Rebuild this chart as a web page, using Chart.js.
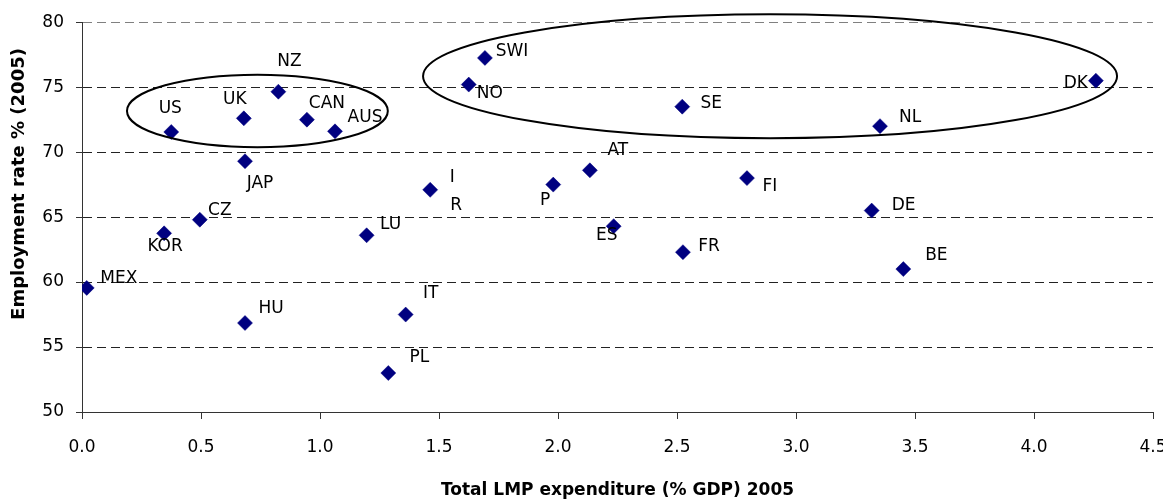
<!DOCTYPE html>
<html>
<head>
<meta charset="utf-8">
<script src="https://cdn.jsdelivr.net/npm/chart.js@4"></script>
<style>
  body { margin:0; background:#fff; overflow:hidden; }
  #wrap { width:1163px; height:502px; position:relative; }
</style>
</head>
<body>
<div id="wrap"><canvas id="lmp_chart"></canvas></div>
<script>
// country codes as printed next to the markers
const countries = ['MEX','KOR','CZ','US','HU','UK','JAP','NZ','CAN','AUS','LU','PL','IT','I|R','NO','SWI','P','AT','ES','SE','FR','FI','DE','NL','BE','DK'];
// total LMP expenditure, % of GDP (2005)
const lmpSpend = [0.02,0.345,0.495,0.375,0.685,0.68,0.685,0.825,0.945,1.063,1.196,1.287,1.36,1.463,1.625,1.693,1.98,2.134,2.234,2.522,2.525,2.794,3.318,3.353,3.451,4.26];
// employment rate % (2005)
const empRate = [59.55,63.75,64.8,71.55,56.85,72.6,69.3,74.65,72.5,71.6,63.6,53.0,57.5,67.1,75.2,77.25,67.5,68.6,64.3,73.5,62.3,68.0,65.5,72.0,61.0,75.5];
const xTicks = [0,0.5,1,1.5,2,2.5,3,3.5,4,4.5];
const yTicks = [50,55,60,65,70,75,80];
const xTitle = 'Total LMP expenditure (% GDP) 2005';
const yTitle = 'Employment rate % (2005)';

// where each label sits relative to its marker (px)
const labelOffsets = [[32,-11],[1,12],[20,-11],[-1,-25],[26,-16],[-9,-20],[15,21],[11,-32],[20,-18],[30,-15],[24,-12],[31,-17],[25,-23],[[22,-14],[26,14]],[21,7],[27,-8],[-8,14],[28,-21],[-7,8],[29,-5],[26,-7],[23,7],[32,-7],[30,-10],[33,-15],[-20,1]];

// the two groups circled in the original (data units: cx, cy, rx, ry)
const groups = [[0.737,73.17,0.548,2.79],[2.891,75.84,1.458,4.77]];

let pts = [];
for(let i=0; i<lmpSpend.length; i++){
    pts.push({x:lmpSpend[i], y:empRate[i]});
}

const FONT = "'DejaVu Sans', sans-serif";

const ellipsePlugin = {
    id:'groups',
    afterDatasetsDraw(chart){
        const ctx = chart.ctx, xs = chart.scales.x, ys = chart.scales.y;
        ctx.save();
        ctx.strokeStyle = '#000';
        ctx.lineWidth = 2;
        groups.forEach(g => {
            const cx = xs.getPixelForValue(g[0]);
            const cy = ys.getPixelForValue(g[1]);
            const rx = xs.getPixelForValue(g[0]+g[2]) - cx;
            const ry = cy - ys.getPixelForValue(g[1]+g[3]);
            ctx.beginPath();
            ctx.ellipse(cx, cy, rx, ry, 0, 0, Math.PI*2);
            ctx.stroke();
        });
        ctx.restore();
    }
};

const labelPlugin = {
    id:'ptLabels',
    afterDraw(chart){
        const ctx = chart.ctx;
        const meta = chart.getDatasetMeta(0);
        ctx.save();
        ctx.font = '17px ' + FONT;
        ctx.fillStyle = '#000';
        ctx.textAlign = 'center';
        ctx.textBaseline = 'alphabetic';
        meta.data.forEach((pt, i) => {
            const parts = countries[i].split('|');
            let offs = labelOffsets[i];
            if(!Array.isArray(offs[0])) offs = [offs];
            parts.forEach((txt, j) => {
                ctx.fillText(txt, pt.x + offs[j][0], pt.y + offs[j][1] + 6);
            });
        });

        // axis titles (the y one is not centred on the axis in the original)
        const area = chart.chartArea;
        ctx.font = 'bold 17px ' + FONT;
        ctx.fillText(xTitle, (area.left + area.right) / 2, 495);
        ctx.translate(24, 184);
        ctx.rotate(-Math.PI/2);
        ctx.font = 'bold 18px ' + FONT;
        ctx.fillText(yTitle, 0, 0);
        ctx.restore();
    }
};

new Chart(document.getElementById('lmp_chart'), {
    type:'scatter',
    data:{
        datasets:[{
            label:'Employment vs LMP expenditure',
            data:pts,
            pointStyle:'rectRot',
            pointRadius:7.5,
            pointHoverRadius:7.5,
            backgroundColor:'#000080',
            borderColor:'#000080',
            borderWidth:0.5
        }]
    },
    plugins:[ellipsePlugin, labelPlugin],
    options:{
        responsive:true,
        maintainAspectRatio:false,
        animation:false,
        layout:{ padding:{ left:0, right:10, top:19, bottom:0 } },
        plugins:{ legend:{ display:false }, tooltip:{ enabled:false } },
        scales:{
            x:{
                type:'linear',
                min:0, max:4.5,
                afterBuildTicks: s => { s.ticks = xTicks.map(v => ({value:v})); },
                afterFit: s => { s.height = 90; s.paddingLeft = 0; s.paddingRight = 0; },
                border:{ display:true, color:'#333', width:1 },
                grid:{ drawOnChartArea:false, drawTicks:true, tickLength:7, tickColor:'#333' },
                ticks:{
                    padding:18,
                    color:'#000',
                    font:{ family:FONT, size:17 },
                    maxRotation:0,
                    callback: v => Number(v).toFixed(1)
                },
                title:{ display:false }
            },
            y:{
                type:'linear',
                min:50, max:80,
                afterBuildTicks: s => { s.ticks = yTicks.map(v => ({value:v})); },
                afterFit: s => { s.width = 82; },
                border:{ display:true, color:'#333', width:1, dash:[9,5] },
                grid:{
                    drawTicks:true,
                    tickLength:6,
                    tickColor:'#333',
                    tickBorderDash:[],
                    color: c => c.tick && c.tick.value === 80 ? '#808080' : '#222',
                    lineWidth:1
                },
                ticks:{
                    padding:12,
                    color:'#000',
                    font:{ family:FONT, size:17 }
                },
                title:{ display:false }
            }
        }
    }
});
</script>
</body>
</html>
